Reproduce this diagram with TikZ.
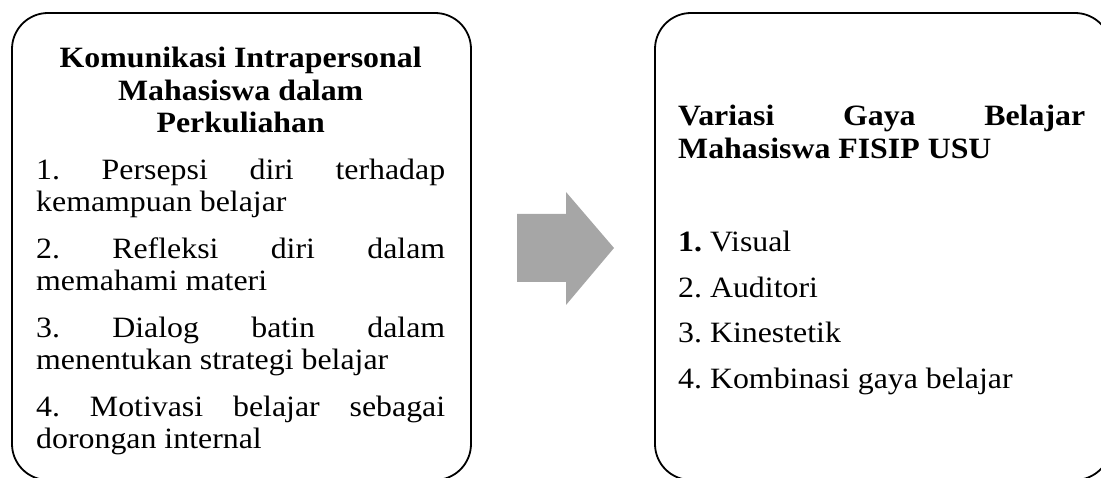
\documentclass[tikz,border=0pt]{standalone}
\usepackage{fontspec}
\setmainfont[FakeStretch=1.08]{Liberation Serif}
\usetikzlibrary{calc,positioning}

\newcommand{\aturisi}{\setlength{\parskip}{14pt}\frenchspacing\hyphenpenalty=10000\exhyphenpenalty=10000\lefthyphenmin=62\righthyphenmin=62\tolerance=10000\parindent=0pt\relax}
\definecolor{abupanah}{HTML}{A6A6A6}
\tikzset{
	kotak/.style={line width=1.8pt, rounded corners=36pt},
	isi/.style={inner sep=0pt, anchor=base west, align=justify, font=\fontsize{29.5}{32.5}\selectfont},
}

\begin{document}
\begin{tikzpicture}[x=1pt, y=-1pt]
			\useasboundingbox (0,0) rectangle (1101,478);
			\clip (0,0) rectangle (1101,478);
			\coordinate (A1) at (12,13);
			\coordinate (A2) at (471,480);
			\coordinate (B1) at (655,13);
			\coordinate (B2) at (1111,480);
			\draw[kotak] (A1) rectangle (A2);
			\draw[kotak] (B1) rectangle (B2);
			\fill[abupanah] (517,214)--(566,214)--(566,192)--(614,248)--(566,305)--(566,282)--(517,282)--cycle;
			\node[isi, text width=409pt] (kiri) at (36,68) {\aturisi
				{\centering\bfseries Komunikasi Intrapersonal Mahasiswa dalam Perkuliahan\par}
				1. Persepsi diri terhadap kemampuan belajar\par
				2. Refleksi diri dalam memahami materi\par
				3. Dialog batin dalam menentukan strategi belajar\par
				4. Motivasi belajar sebagai dorongan internal\par};
			\node[isi, text width=407pt] (judul) at (678,126) {\aturisi
				\bfseries Variasi Gaya Belajar Mahasiswa FISIP USU\par};
			\node[isi, text width=407pt] (daftar) at (678,252) {\aturisi\setlength{\parskip}{13pt}%
				\textbf{1.} Visual\par
				2. Auditori\par
				3. Kinestetik\par
				4. Kombinasi gaya belajar\par};
		\end{tikzpicture}
\end{document}
